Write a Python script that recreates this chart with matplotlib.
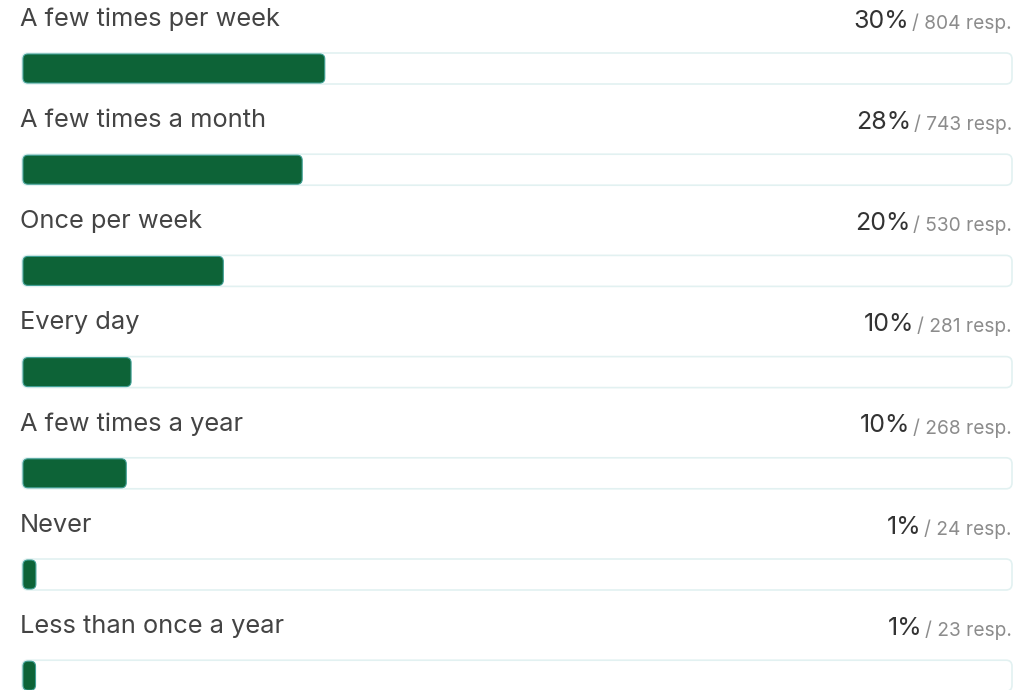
import matplotlib.pyplot as plt
from matplotlib.patches import FancyBboxPatch

# survey answers, in display order
labels = ["A few times per week", "A few times a month", "Once per week",
          "Every day", "A few times a year", "Never", "Less than once a year"]
responses = [804, 743, 530, 281, 268, 24, 23]
pct_labels = ["30%", "28%", "20%", "10%", "10%", "1%", "1%"]

total = sum(responses)

W, H = 1035, 690
fig = plt.figure(figsize=(W / 100, H / 100), dpi=100)
ax = fig.add_axes([0, 0, 1, 1])
ax.set_xlim(0, W)
ax.set_ylim(H, 0)
ax.axis("off")

font = "Inter"
x0, x1 = 22, 1012
track_w = x1 - x0
step = 101.2
bar_h = 31
green = "#0d6337"

fig.canvas.draw()
for i, (lab, n, pct) in enumerate(zip(labels, responses, pct_labels)):
    top = i * step
    ax.text(x0 - 2, top + 19, lab, fontsize=18.3, family=font, color="#444444",
            va="center", ha="left")
    t = ax.text(x1, top + 23, "/ %d resp." % n, fontsize=13.8, family=font,
                color="#8c8c8c", va="center", ha="right")
    bb = t.get_window_extent(renderer=fig.canvas.get_renderer())
    ax.text(bb.x0 - 3, top + 21, pct, fontsize=18, family=font,
            color="#333333", va="center", ha="right")

    yb = top + 53
    track = FancyBboxPatch((x0, yb), track_w, bar_h,
                           boxstyle="round,pad=0,rounding_size=6",
                           facecolor="white", edgecolor="#e2f1f1", lw=1.2)
    ax.add_patch(track)
    w = max(n / total * track_w + 4, 12)
    bar = FancyBboxPatch((x0 + 1, yb + 1), w, bar_h - 2,
                         boxstyle="round,pad=0,rounding_size=5",
                         facecolor=green, edgecolor="#3f9f95", lw=0.8)
    ax.add_patch(bar)

fig.savefig("out.png", dpi=100, facecolor="white")
